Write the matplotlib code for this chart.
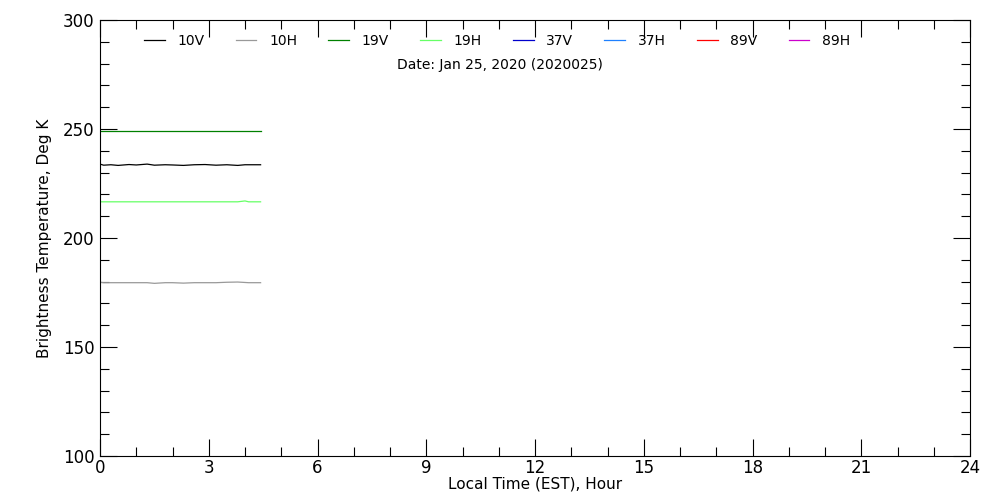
import matplotlib
matplotlib.use("Agg")
import matplotlib.pyplot as plt
from matplotlib.ticker import MultipleLocator

# channels and legend colours
channels = ["10V", "10H", "19V", "19H", "37V", "37H", "89V", "89H"]
colors = ["#000000", "#999999", "#008000", "#66FF66",
          "#0000CC", "#1E80FF", "#FF0000", "#CC00CC"]

# local time (hours) of the samples
hours = [0.0, 0.1, 0.3, 0.5, 0.8, 1.0, 1.3, 1.5, 1.8, 2.0,
         2.3, 2.6, 2.9, 3.2, 3.5, 3.8, 4.0, 4.1, 4.43]

# brightness temperatures (K); 37/89 GHz have no data that day
tb = {
    "10V": [233.9, 233.4, 233.6, 233.3, 233.7, 233.5, 233.9, 233.4, 233.6, 233.5,
            233.3, 233.6, 233.7, 233.4, 233.6, 233.3, 233.6, 233.6, 233.6],
    "10H": [179.7, 179.5, 179.5, 179.5, 179.5, 179.5, 179.5, 179.2, 179.5, 179.5,
            179.3, 179.5, 179.5, 179.5, 179.7, 179.8, 179.6, 179.5, 179.5],
    "19V": [249.1] * 19,
    "19H": [216.6, 216.6, 216.6, 216.6, 216.6, 216.6, 216.6, 216.6, 216.6, 216.6,
            216.6, 216.6, 216.6, 216.6, 216.6, 216.6, 217.0, 216.6, 216.6],
    "37V": [],
    "37H": [],
    "89V": [],
    "89H": [],
}

date_label = "Date: Jan 25, 2020 (2020025)"

fig = plt.figure(figsize=(10, 5), dpi=100)
ax = fig.add_axes([0.1, 0.088, 0.87, 0.872])

handles = []
for ch, col in zip(channels, colors):
    y = tb[ch]
    x = hours[:len(y)]
    line, = ax.plot(x, y, color=col, linewidth=0.9, label=ch)
    handles.append(line)

ax.set_xlim(0, 24)
ax.set_ylim(100, 300)
ax.xaxis.set_major_locator(MultipleLocator(3))
ax.xaxis.set_minor_locator(MultipleLocator(1))
ax.yaxis.set_major_locator(MultipleLocator(50))
ax.yaxis.set_minor_locator(MultipleLocator(10))
ax.tick_params(which="both", direction="in", top=True, right=True, width=0.8,
               labelsize=12)
ax.tick_params(which="major", length=12)
ax.tick_params(which="minor", length=6.5)
ax.tick_params(axis="x", pad=2)
ax.tick_params(axis="y", pad=4)
for sp in ax.spines.values():
    sp.set_linewidth(0.8)

ax.set_xlabel("Local Time (EST), Hour", fontsize=11, labelpad=0)
ax.set_ylabel("Brightness Temperature, Deg K", fontsize=11, labelpad=8)

fig.legend(handles=handles, loc="center", bbox_to_anchor=(0.497, 0.918),
           ncol=8, frameon=False, fontsize=10, handlelength=1.5,
           handletextpad=0.9, columnspacing=2.25)
fig.text(0.5, 0.87, date_label, ha="center", va="center", fontsize=10)

fig.savefig("out.png", dpi=100)
